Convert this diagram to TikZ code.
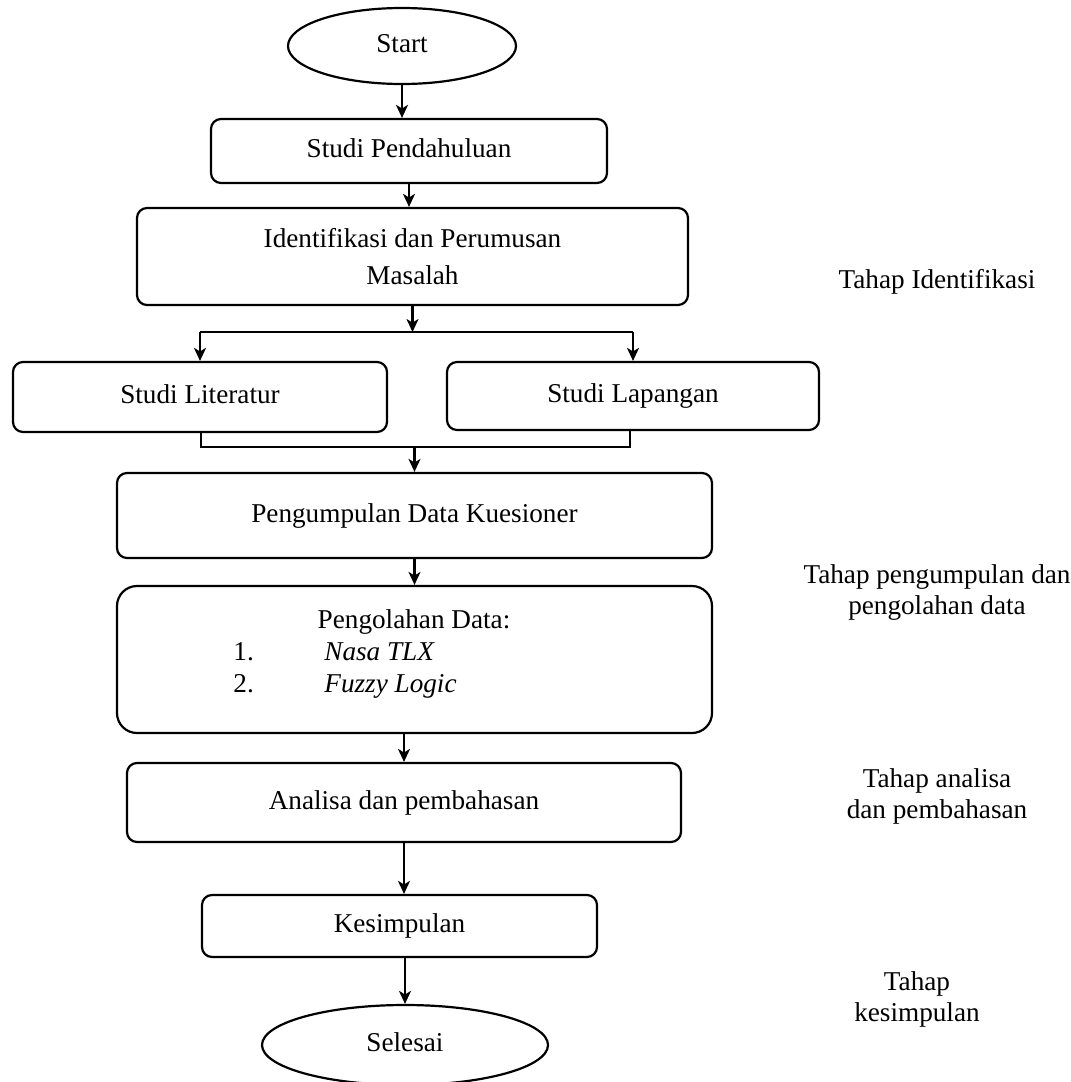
\documentclass[tikz,border=0pt]{standalone}
\usepackage{fontspec}
\setmainfont{Liberation Serif}
\usetikzlibrary{arrows.meta,shapes.geometric}
\tikzset{
  box/.style={draw, line width=1.1pt, rounded corners=5pt, inner sep=0pt, align=center},
  oval/.style={draw, ellipse, line width=1.1pt, inner sep=0pt},
  satu/.style={text height=0.8em, text depth=0.14em},
  arr/.style={-{Stealth[length=6.5pt,width=6pt,inset=1.8pt]}, line width=1.1pt},
  tahap/.style={align=center},
}
\begin{document}
\begin{tikzpicture}[x=0.5pt, y=-0.5pt, font=\fontsize{13.6}{15.5}\selectfont]
       % \draw[help lines, step=50] (0, 0) grid (1071, 1082);
       \useasboundingbox (0, 0) rectangle (1071, 1082);
       \node [oval, satu, minimum width=114pt, minimum height=38pt] (start) at (402, 46) {Start};
       \node [box, satu, minimum width=198pt, minimum height=32pt] (pend) at (409, 151) {Studi Pendahuluan};
       \node [box, minimum width=275.5pt, minimum height=48.5pt] (ident) at (412.5, 256.5) {Identifikasi dan Perumusan\\[3pt]Masalah};
       \node [box, satu, minimum width=187pt, minimum height=35pt] (lit) at (200, 397) {Studi Literatur};
       \node [box, satu, minimum width=186pt, minimum height=34pt] (lap) at (633, 396) {Studi Lapangan};
       \node [box, satu, minimum width=297.5pt, minimum height=42.5pt] (kumpul) at (414.5, 515.5) {Pengumpulan Data Kuesioner};
       \node [box, rounded corners=10pt, minimum width=297.5pt, minimum height=73.5pt] (olah) at (414.5, 659.5) {};
       \node (olahjudul) at (414, 622) {Pengolahan Data:};
       \node [anchor=base west, inner sep=0pt] (no1) at (233, 660) {1.};
       \node [anchor=base west, inner sep=0pt] (nasa) at (324, 660) {\itshape Nasa TLX};
       \node [anchor=base west, inner sep=0pt] (no2) at (233, 692) {2.};
       \node [anchor=base west, inner sep=0pt] (fuzzy) at (324, 692) {\itshape Fuzzy Logic};
       \node [box, satu, minimum width=277pt, minimum height=39.5pt] (analisa) at (404, 802.5) {Analisa dan pembahasan};
       \node [box, satu, minimum width=197.5pt, minimum height=31pt] (simpul) at (399.5, 926) {Kesimpulan};
       \node [oval, satu, minimum width=143pt, minimum height=40pt] (selesai) at (405, 1045) {Selesai};
       % cabang dan gabungan
       \coordinate (bl) at (200, 332);
       \coordinate (br) at (633, 332);
       \coordinate (ml) at (201, 447);
       \coordinate (mr) at (630, 447);
       \draw [arr] (start.south) -- (start.south |- pend.north);
       \draw [arr] (pend.south) -- (pend.south |- ident.north);
       \draw [arr] (ident.south) -- (ident.south |- bl);
       \draw [line width=1.1pt] (bl) -- (br);
       \draw [arr] (bl) -- (lit.north);
       \draw [arr] (br) -- (lap.north);
       \draw [line width=1.1pt] (ml |- lit.south) -- (ml) -- (mr) -- (mr |- lap.south);
       \draw [arr] (kumpul.north |- ml) -- (kumpul.north);
       \draw [arr] (kumpul.south) -- (olah.north);
       \draw [arr] (analisa.north |- olah.south) -- (analisa.north);
       \draw [arr] (analisa.south) -- (analisa.south |- simpul.north);
       \draw [arr] (selesai.north |- simpul.south) -- (selesai.north);
       % keterangan tahap
       \node [tahap] (t1) at (937, 282) {Tahap Identifikasi};
       \node [tahap] (t2) at (937, 592) {Tahap pengumpulan dan\\pengolahan data};
       \node [tahap] (t3) at (937, 796) {Tahap analisa\\dan pembahasan};
       \node [tahap] (t4) at (917, 999) {Tahap\\kesimpulan};
\end{tikzpicture}
\end{document}
